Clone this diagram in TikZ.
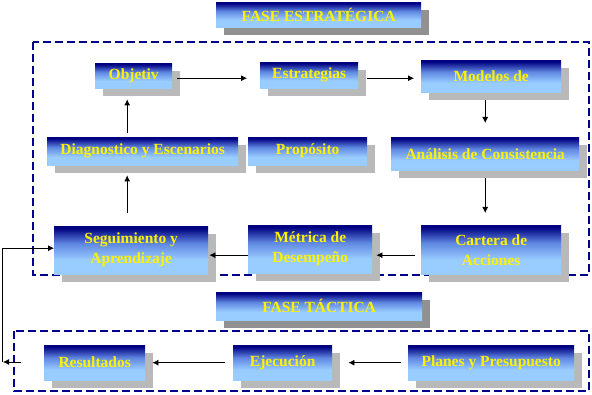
\documentclass[tikz,border=0pt]{standalone}
\usepackage{fontspec}
\setmainfont{Liberation Serif}
\usetikzlibrary{shadows,arrows.meta}
\definecolor{navyb}{RGB}{0,0,128}
\definecolor{midb}{RGB}{95,135,225}
\definecolor{lightb}{RGB}{153,204,255}
\definecolor{shadowg}{RGB}{185,185,185}
\definecolor{checkg}{RGB}{145,145,145}
\definecolor{dashc}{RGB}{0,0,140}
\pgfdeclareverticalshading{boxshade}{100bp}{color(0bp)=(lightb); color(25bp)=(lightb); color(40bp)=(lightb); color(57bp)=(midb); color(73bp)=(navyb); color(100bp)=(navyb)}
\tikzset{
  box/.style={shading=boxshade, draw=none, text=yellow, inner sep=0pt,
    anchor=north west, align=center,
    font=\bfseries\fontsize{15.5}{20}\selectfont,
    drop shadow={shadow xshift=8pt, shadow yshift=-8pt, fill=shadowg, opacity=1}},
  titlebox/.style={box, drop shadow={shadow xshift=8pt, shadow yshift=-8pt, fill=checkg, opacity=1}},
  arr/.style={-{Latex[length=6pt,width=6pt]}, line width=0.8pt, black},
  plainline/.style={line width=0.8pt, black},
  dashbox/.style={draw=dashc, line width=1.1pt, dash pattern=on 8pt off 4pt}
}
\begin{document}
\begin{tikzpicture}[x=1pt,y=-1pt]
\useasboundingbox (0,0) rectangle (592,395);
% phase frames
\draw[dashbox] (33,42) rectangle (589,275);
\draw[dashbox] (14,331) rectangle (589,391);
% titles
\node[titlebox, minimum width=205, minimum height=25] (fe) at (216,2) {FASE ESTRATÉGICA};
\node[titlebox, minimum width=206, minimum height=28] (ft) at (216,292) {FASE TÁCTICA};
% strategic boxes
\node[box, minimum width=77, minimum height=25] (obj) at (95,63) {Objetiv};
\node[box, minimum width=98, minimum height=26] (est) at (260,62) {Estrategias};
\node[box, minimum width=140, minimum height=32] (mod) at (421,60) {Modelos de};
\node[box, minimum width=191, minimum height=28] (diag) at (47,137) {Diagnostico y Escenarios};
\node[box, minimum width=119, minimum height=28] (prop) at (248,137) {Propósito};
\node[box, minimum width=188, minimum height=33] (ana) at (391,137) {Análisis de Consistencia};
\node[box, minimum width=154, minimum height=48] (seg) at (54,226) {Seguimiento y\\Aprendizaje};
\node[box, minimum width=124, minimum height=48] (met) at (248,225) {Métrica de\\Desempeño};
\node[box, minimum width=140, minimum height=49] (car) at (421,225) {Cartera de\\Acciones};
% tactical boxes
\node[box, minimum width=101, minimum height=35] (res) at (44,345) {Resultados};
\node[box, minimum width=99, minimum height=35] (eje) at (233,345) {Ejecución};
\node[box, minimum width=166, minimum height=35] (pla) at (408,345) {Planes y Presupuesto};
% connectors
\draw[arr] ([shift={(5,2.5)}]obj.east) -- ([shift={(-13,3)}]est.west);
\draw[arr] ([shift={(9,3)}]est.east) -- ([shift={(-7,2)}]mod.west);
\draw[arr] ([shift={(-6,8)}]mod.south) -- ([shift={(0,-14)}]ana.north);
\draw[arr] ([shift={(0,8)}]ana.south) -- ([shift={(-6,-12)}]car.north);
\draw[arr] ([shift={(-6,5.5)}]car.west) -- ([shift={(4,6)}]met.east);
\draw[arr] ([shift={(0,6)}]met.west) -- ([shift={(1,5)}]seg.east);
\draw[arr] ([shift={(-4,-13)}]seg.north) -- ([shift={(-15.5,10)}]diag.south);
\draw[arr] ([shift={(-15.5,-4)}]diag.north) -- ([shift={(-6.5,11)}]obj.south);
\draw[arr] ([shift={(-7,0)}]pla.west) -- ([shift={(16,0)}]eje.east);
\draw[arr] ([shift={(-8,0)}]eje.west) -- ([shift={(7,0)}]res.east);
% feedback
\coordinate (fbA) at (21,362);
\coordinate (fbB) at (3,362);
\coordinate (fbC) at (2,362);
\draw[arr] (fbA) -- (fbB);
\draw[arr] (fbC) |- ([shift={(0,-2)}]seg.west);
\end{tikzpicture}
\end{document}
